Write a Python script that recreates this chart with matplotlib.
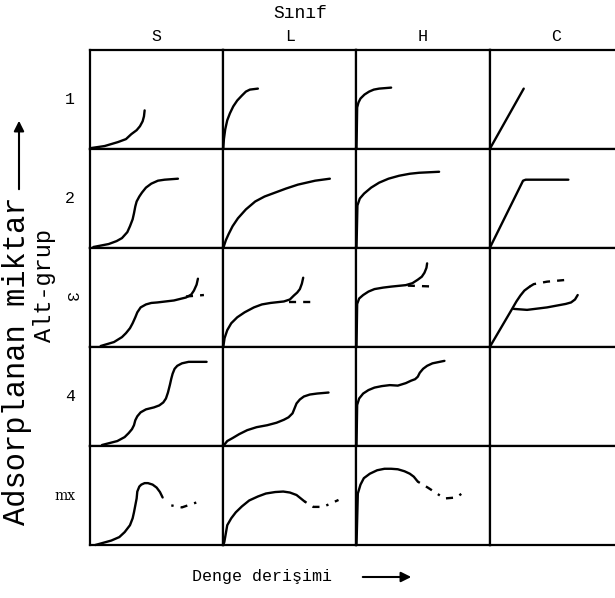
import matplotlib
matplotlib.use("Agg")
import matplotlib.pyplot as plt

plt.rcParams["font.family"] = ["Liberation Mono", "DejaVu Sans Mono"]

# class columns and sub-group rows
CLASSES = ["S", "L", "H", "C"]
SUBGROUPS = ["1", "2", "3", "4", "mx"]

# curves, in cell units (0..1 in both directions)
S1_X = [0.01, 0.11, 0.21, 0.27, 0.31, 0.35, 0.375, 0.395, 0.405, 0.41]
S1_Y = [0.01, 0.03, 0.07, 0.10, 0.15, 0.19, 0.23, 0.28, 0.33, 0.39]
L1_X = [0.0, 0.005, 0.015, 0.03, 0.05, 0.075, 0.105, 0.14, 0.17, 0.20, 0.26]
L1_Y = [0.0, 0.10, 0.20, 0.29, 0.36, 0.43, 0.49, 0.54, 0.58, 0.60, 0.61]
H1_X = [0.0, 0.005, 0.015, 0.03, 0.06, 0.095, 0.13, 0.17, 0.26]
H1_Y = [0.0, 0.42, 0.47, 0.51, 0.55, 0.58, 0.60, 0.61, 0.62]
C1_X = [0.0, 0.255]
C1_Y = [0.0, 0.61]

S2_X = [0.025, 0.14, 0.20, 0.24, 0.28, 0.30, 0.32, 0.33, 0.34, 0.35, 0.37, 0.39,
        0.42, 0.46, 0.51, 0.56, 0.66]
S2_Y = [0.01, 0.04, 0.07, 0.10, 0.16, 0.22, 0.29, 0.35, 0.42, 0.47, 0.52, 0.56,
        0.61, 0.65, 0.68, 0.69, 0.70]
L2_X = [0.0, 0.02, 0.04, 0.07, 0.11, 0.17, 0.24, 0.31, 0.39, 0.47, 0.56, 0.69, 0.80]
L2_Y = [0.0, 0.08, 0.14, 0.22, 0.30, 0.39, 0.47, 0.52, 0.56, 0.60, 0.64, 0.68, 0.70]
H2_X = [0.0, 0.007, 0.025, 0.057, 0.11, 0.17, 0.24, 0.32, 0.40, 0.47, 0.62]
H2_Y = [0.0, 0.43, 0.50, 0.55, 0.61, 0.66, 0.70, 0.73, 0.75, 0.76, 0.77]
C2_X = [0.0, 0.25, 0.27, 0.59]
C2_Y = [0.0, 0.68, 0.69, 0.69]

S3_X = [0.08, 0.18, 0.24, 0.27, 0.30, 0.32, 0.34, 0.355, 0.38, 0.42, 0.46, 0.505,
        0.63, 0.72, 0.76, 0.78, 0.80, 0.81]
S3_Y = [0.01, 0.05, 0.10, 0.14, 0.19, 0.24, 0.30, 0.35, 0.40, 0.43, 0.445, 0.45,
        0.47, 0.50, 0.53, 0.57, 0.63, 0.69]
S3_DASH_X = [0.72, 0.855]
S3_DASH_Y = [0.51, 0.525]
L3_X = [0.0, 0.01, 0.03, 0.06, 0.105, 0.16, 0.23, 0.29, 0.355, 0.455, 0.50, 0.53,
        0.555, 0.575, 0.59, 0.60]
L3_Y = [0.0, 0.09, 0.17, 0.24, 0.30, 0.35, 0.40, 0.43, 0.445, 0.46, 0.48, 0.52,
        0.55, 0.585, 0.64, 0.70]
L3_DASH_X = [0.49, 0.69]
L3_DASH_Y = [0.455, 0.455]
H3_X = [0.0, 0.005, 0.02, 0.05, 0.09, 0.135, 0.20, 0.26, 0.37, 0.42, 0.46, 0.49,
        0.51, 0.525, 0.53]
H3_Y = [0.0, 0.435, 0.49, 0.525, 0.56, 0.585, 0.60, 0.61, 0.625, 0.645, 0.68,
        0.71, 0.75, 0.80, 0.845]
H3_DASH_X = [0.385, 0.595]
H3_DASH_Y = [0.62, 0.61]
C3_X = [0.0, 0.17, 0.20, 0.23, 0.26, 0.30]
C3_Y = [0.0, 0.39, 0.46, 0.52, 0.57, 0.61]
C3_DASH_X = [0.30, 0.33, 0.43, 0.59]
C3_DASH_Y = [0.61, 0.635, 0.66, 0.68]
C3_LOW_X = [0.18, 0.28, 0.43, 0.57, 0.61, 0.64, 0.66]
C3_LOW_Y = [0.385, 0.375, 0.40, 0.435, 0.45, 0.48, 0.525]

S4_X = [0.09, 0.205, 0.26, 0.29, 0.315, 0.33, 0.34, 0.355, 0.38, 0.42, 0.48,
        0.52, 0.55, 0.57, 0.585, 0.60, 0.61, 0.62, 0.635, 0.655, 0.69, 0.74, 0.875]
S4_Y = [0.01, 0.05, 0.09, 0.13, 0.17, 0.21, 0.26, 0.30, 0.34, 0.37, 0.39,
        0.41, 0.44, 0.48, 0.54, 0.62, 0.68, 0.73, 0.78, 0.81, 0.835, 0.85, 0.85]
L4_X = [0.0, 0.03, 0.07, 0.12, 0.18, 0.25, 0.33, 0.40, 0.455, 0.49, 0.52, 0.535,
        0.55, 0.575, 0.605, 0.65, 0.705, 0.79]
L4_Y = [0.0, 0.05, 0.08, 0.12, 0.16, 0.19, 0.21, 0.235, 0.265, 0.29, 0.33, 0.38,
        0.43, 0.47, 0.50, 0.52, 0.53, 0.54]
H4_X = [0.0, 0.005, 0.02, 0.05, 0.09, 0.135, 0.19, 0.25, 0.31, 0.37, 0.41, 0.44,
        0.46, 0.475, 0.50, 0.53, 0.57, 0.66]
H4_Y = [0.0, 0.415, 0.48, 0.53, 0.565, 0.59, 0.605, 0.615, 0.61, 0.635, 0.66,
        0.675, 0.70, 0.74, 0.78, 0.81, 0.835, 0.86]

MXS_X = [0.04, 0.16, 0.22, 0.26, 0.30, 0.32, 0.33, 0.34, 0.35, 0.355, 0.37,
         0.385, 0.41, 0.435, 0.47, 0.50, 0.525, 0.545]
MXS_Y = [0.0, 0.045, 0.08, 0.13, 0.20, 0.27, 0.33, 0.40, 0.47, 0.54, 0.59,
         0.61, 0.625, 0.625, 0.61, 0.58, 0.535, 0.48]
MXS_DOT_X = [0.61, 0.69, 0.80]
MXS_DOT_Y = [0.40, 0.38, 0.43]
MXL_X = [0.0, 0.008, 0.03, 0.06, 0.094, 0.14, 0.195, 0.26, 0.32, 0.39, 0.45,
         0.50, 0.55, 0.61]
MXL_Y = [0.0, 0.03, 0.20, 0.27, 0.33, 0.39, 0.45, 0.49, 0.52, 0.535, 0.54,
         0.53, 0.505, 0.44]
MXL_DOT_X = [0.61, 0.675, 0.75, 0.865]
MXL_DOT_Y = [0.44, 0.385, 0.385, 0.455]
MXH_X = [0.0, 0.01, 0.03, 0.055, 0.10, 0.155, 0.21, 0.26, 0.31, 0.36, 0.40,
         0.43, 0.46]
MXH_Y = [0.0, 0.52, 0.61, 0.675, 0.72, 0.755, 0.77, 0.77, 0.765, 0.745, 0.72,
         0.69, 0.64]
MXH_DOT_X = [0.46, 0.535, 0.66, 0.75, 0.80]
MXH_DOT_Y = [0.64, 0.58, 0.47, 0.48, 0.53]

SOLID = "-"
DASH = (0, (3, 3))
DOT = (0, (1, 3, 3, 3))

CELLS = {
    (0, 0): [(S1_X, S1_Y, SOLID)],
    (0, 1): [(L1_X, L1_Y, SOLID)],
    (0, 2): [(H1_X, H1_Y, SOLID)],
    (0, 3): [(C1_X, C1_Y, SOLID)],
    (1, 0): [(S2_X, S2_Y, SOLID)],
    (1, 1): [(L2_X, L2_Y, SOLID)],
    (1, 2): [(H2_X, H2_Y, SOLID)],
    (1, 3): [(C2_X, C2_Y, SOLID)],
    (2, 0): [(S3_X, S3_Y, SOLID), (S3_DASH_X, S3_DASH_Y, DASH)],
    (2, 1): [(L3_X, L3_Y, SOLID), (L3_DASH_X, L3_DASH_Y, DASH)],
    (2, 2): [(H3_X, H3_Y, SOLID), (H3_DASH_X, H3_DASH_Y, DASH)],
    (2, 3): [(C3_X, C3_Y, SOLID), (C3_DASH_X, C3_DASH_Y, DASH),
             (C3_LOW_X, C3_LOW_Y, SOLID)],
    (3, 0): [(S4_X, S4_Y, SOLID)],
    (3, 1): [(L4_X, L4_Y, SOLID)],
    (3, 2): [(H4_X, H4_Y, SOLID)],
    (4, 0): [(MXS_X, MXS_Y, SOLID), (MXS_DOT_X, MXS_DOT_Y, DOT)],
    (4, 1): [(MXL_X, MXL_Y, SOLID), (MXL_DOT_X, MXL_DOT_Y, DOT)],
    (4, 2): [(MXH_X, MXH_Y, SOLID), (MXH_DOT_X, MXH_DOT_Y, DOT)],
}

W, H = 615, 598
fig = plt.figure(figsize=(W / 100, H / 100), dpi=100)
gs = fig.add_gridspec(5, 4, left=90 / W, right=623 / W, top=1 - 50 / H,
                      bottom=1 - 545 / H, hspace=0, wspace=0)

for r in range(5):
    for c in range(4):
        ax = fig.add_subplot(gs[r, c])
        ax.set_xlim(0, 1)
        ax.set_ylim(0, 1)
        ax.set_xticks([])
        ax.set_yticks([])
        for sp in ax.spines.values():
            sp.set_linewidth(1.6)
            sp.set_color("black")
        for xs, ys, ls in CELLS.get((r, c), []):
            ax.plot(xs, ys, color="black", lw=1.7, ls=ls,
                    solid_capstyle="round", solid_joinstyle="round",
                    clip_on=False)
        if c == 0:
            lab = SUBGROUPS[r]
            if lab == "mx":
                ax.text(-0.19, 0.5, lab, transform=ax.transAxes, ha="center",
                        va="center", fontsize=10, family="DejaVu Serif")
            elif lab == "3":
                ax.text(-0.15, 0.5, lab, transform=ax.transAxes, ha="center",
                        va="center", fontsize=12, rotation=-90)
            else:
                ax.text(-0.15, 0.5, lab, transform=ax.transAxes, ha="center",
                        va="center", fontsize=12)
        if r == 0:
            ax.text(0.5, 1.06, CLASSES[c], transform=ax.transAxes,
                    ha="center", va="bottom", fontsize=12)


def fx(px):
    return px / W


def fy(py):
    return 1 - py / H


fig.text(fx(300), fy(13), "Sınıf", ha="center", va="center", fontsize=13)
fig.text(fx(262), fy(577), "Denge derişimi", ha="center", va="center",
         fontsize=12)
fig.add_artist(matplotlib.patches.FancyArrowPatch(
    (fx(360), fy(577)), (fx(414), fy(577)), transform=fig.transFigure,
    arrowstyle="-|>,head_length=6,head_width=3", color="black", lw=1.5))

fig.text(fx(17), fy(525), "Adsorplanan miktar", rotation=90, ha="center",
         va="bottom", fontsize=22)
fig.add_artist(matplotlib.patches.FancyArrowPatch(
    (fx(19), fy(192)), (fx(19), fy(118)), transform=fig.transFigure,
    arrowstyle="-|>,head_length=6,head_width=3", color="black", lw=1.5))
fig.text(fx(44), fy(286), "Alt-grup", rotation=90, ha="center", va="center",
         fontsize=17)

fig.savefig("out.png", dpi=100)
